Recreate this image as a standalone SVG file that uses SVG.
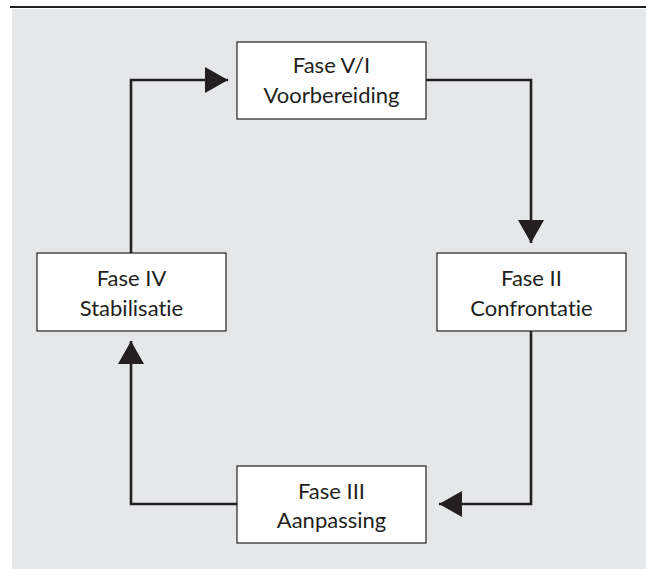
<svg xmlns="http://www.w3.org/2000/svg" width="646" height="569" viewBox="0 0 646 569">
<style>
.box{fill:#ffffff;stroke:#231f20;stroke-width:1.2}
.lbl{font-family:Lato,"Open Sans","Liberation Sans",sans-serif;font-size:22px;fill:#231f20;text-anchor:middle;font-variant-ligatures:none;font-feature-settings:"liga" 0,"clig" 0}
.con{fill:none;stroke:#231f20;stroke-width:2.6;marker-end:url(#ah)}
</style>
<defs>
<marker id="ah" markerUnits="userSpaceOnUse" markerWidth="23" markerHeight="26" refX="23" refY="13" orient="auto">
<path d="M0,0 L23,13 L0,26 z" fill="#231f20"/>
</marker>
</defs>
<rect x="12" y="9" width="634" height="560" fill="#e6e7e8"/>
<line x1="10" y1="7" x2="646" y2="7" stroke="#231f20" stroke-width="2"/>
<g id="connectors">
<polyline class="con" points="426,80 531,80 531,243"/>
<polyline class="con" points="531,331 531,504 439,504"/>
<polyline class="con" points="237,504 131,504 131,341"/>
<polyline class="con" points="131,253 131,80 228,80"/>
</g>
<g id="fase1">
<rect class="box" x="237" y="42" width="189" height="77"/>
<text class="lbl" x="331.5" y="73">Fase V/I</text>
<text class="lbl" x="331.5" y="103">Voorbereiding</text>
</g>
<g id="fase2">
<rect class="box" x="437" y="253" width="189" height="78"/>
<text class="lbl" x="531.5" y="286">Fase II</text>
<text class="lbl" x="531.5" y="316">Confrontatie</text>
</g>
<g id="fase3">
<rect class="box" x="237" y="466" width="189" height="77"/>
<text class="lbl" x="331.5" y="499">Fase III</text>
<text class="lbl" x="331.5" y="528">Aanpassing</text>
</g>
<g id="fase4">
<rect class="box" x="37" y="253" width="189" height="78"/>
<text class="lbl" x="131.5" y="286">Fase IV</text>
<text class="lbl" x="131.5" y="316">Stabilisatie</text>
</g>
</svg>
